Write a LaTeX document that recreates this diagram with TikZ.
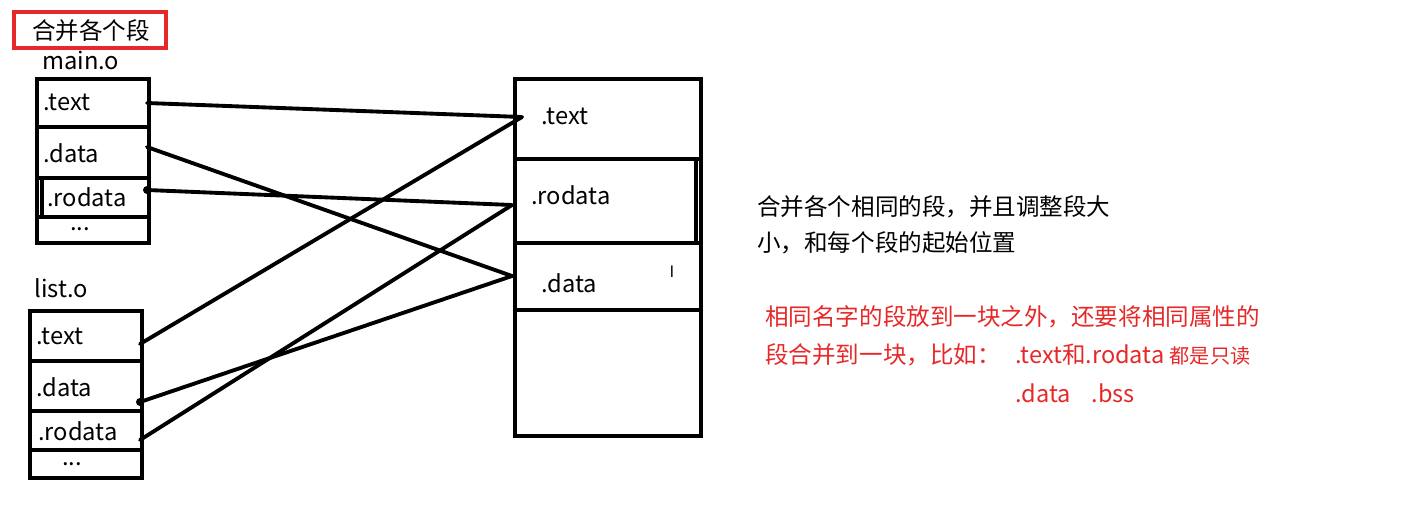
\documentclass[tikz,border=0pt]{standalone}
\usepackage{fontspec}
\setmainfont{Noto Sans CJK SC}
\definecolor{myred}{RGB}{230,40,40}
\begin{document}
\begin{tikzpicture}[x=0.02cm,y=-0.02cm,
  box/.style={draw,line width=2.2pt},
  lab/.style={anchor=west,font=\fontsize{13.5}{15}\selectfont,inner sep=0},
  conn/.style={line width=2.2pt,line cap=round},
  cn/.style={anchor=west,font=\fontsize{13.4}{15}\selectfont,inner sep=0}]
\useasboundingbox (0,0) rectangle (1415,518);
% title
\draw[myred,line width=2pt] (14,12) rectangle (166,48);
\node[lab,font=\fontsize{13.4}{15}\selectfont] (title) at (32,31) {合并各个段};
\node[lab] (mo) at (42,60) {main.o};
\node[lab] (lo) at (34,288) {list.o};
% main.o
\draw[box] (37,79) rectangle (149,243);
\draw[box] (37,127) -- (149,127);
\draw[box] (37,178) -- (149,178);
\draw[box] (37,217) -- (149,217);
\draw[box] (42,178) -- (42,217);
\node[lab] (mt) at (43,102) {.text};
\node[lab] (md) at (43,153) {.data};
\node[lab] (mr) at (47,197) {.rodata};
\node[lab] (me) at (70,229) {...};
% list.o
\draw[box] (30,311) rectangle (142,478);
\draw[box] (30,361) -- (142,361);
\draw[box] (30,411) -- (142,411);
\draw[box] (30,450) -- (142,450);
\node[lab] (lt) at (36,336) {.text};
\node[lab] (ld) at (36,387) {.data};
\node[lab] (lr) at (38,431) {.rodata};
\node[lab] (le) at (62,464) {...};
% right box
\draw[box] (515,79) rectangle (701,436);
\draw[box] (515,159) -- (701,159);
\draw[box] (515,243) -- (701,243);
\draw[box] (515,310) -- (701,310);
\draw[box] (696,159) -- (696,243);
\node[lab] (rt) at (541,116) {.text};
\node[lab] (rr) at (531,195) {.rodata};
\node[lab] (rd) at (541,283) {.data};
\node[font=\small] (cur) at (672,272) {I};
% coordinates
\coordinate (a1) at (147,103); \coordinate (a2) at (147,147); \coordinate (a3) at (147,190);
\coordinate (b1) at (140,344); \coordinate (b2) at (140,402); \coordinate (b3) at (140,440);
\coordinate (t) at (522,117); \coordinate (r) at (512,205); \coordinate (d) at (512,276);
\draw[conn] (a1) -- (t);
\draw[conn] (a2) -- (d);
\draw[conn] (a3) -- (r);
\fill (a3) circle (4);
\draw[conn] (b1) -- (t);
\draw[conn] (b2) -- (d);
\fill (b2) circle (4);
\draw[conn] (b3) -- (r);
% right text
\node[cn] (n1) at (757,207) {合并各个相同的段，并且调整段大};
\node[cn] (n2) at (757,243) {小，和每个段的起始位置};
\node[cn,myred] (n3) at (765,317) {相同名字的段放到一块之外，还要将相同属性的};
\node[cn,myred] (n4) at (765,355) {段合并到一块，比如：};
\node[cn,myred] (n5) at (1015,355) {.text和.rodata {\fontsize{11.5}{12}\selectfont 都是只读}};
\node[cn,myred] (n6) at (1015,393) {.data\hspace{0.9em}.bss};
\end{tikzpicture}
\end{document}
